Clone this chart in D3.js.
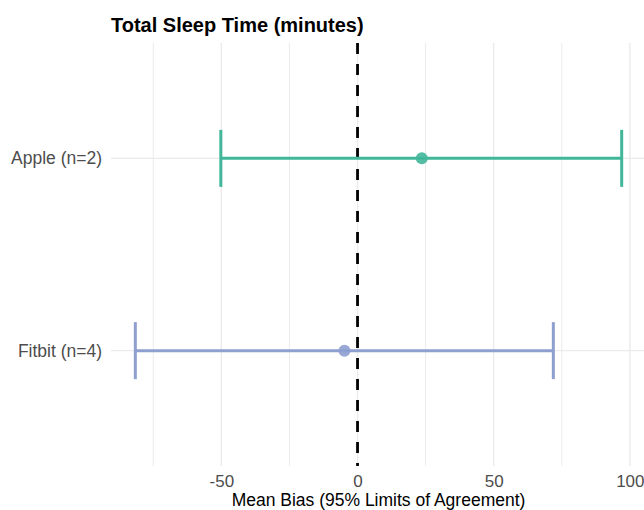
<!DOCTYPE html>
<html>
<head>
<meta charset="utf-8">
<script src="https://cdn.jsdelivr.net/npm/d3@7"></script>
<style>
  html, body { margin: 0; padding: 0; background: #fff; }
  svg { display: block; font-family: "Liberation Sans", Arial, sans-serif; }
</style>
</head>
<body>
<svg id="chart" width="644" height="510"></svg>
<script>
// ─── Data ───────────────────────────────────────────────────────────────────
const devices = ['Apple (n=2)', 'Fitbit (n=4)'];
const meanBias = [23.6, -4.8];
const lowerLoA = [-50.2, -81.6];
const upperLoA = [97.0, 71.9];
const deviceColors = ['#41b699', '#8e9fd0'];

const majorTicks = [-50, 0, 50, 100];
const minorTicks = [-75, -25, 25, 75];

// ─── Layout ─────────────────────────────────────────────────────────────────
const W = 644, H = 510;
const M = { top: 43, right: -2, bottom: 44, left: 111 };  // panel runs off right edge like the source

const rows = devices.map((d, i) => ({
  name: d, mean: meanBias[i], lo: lowerLoA[i], hi: upperLoA[i], color: deviceColors[i]
}));

// ggplot-style 5% expansion of the data range
const lo = d3.min(lowerLoA), hi = d3.max(upperLoA);
const pad = (hi - lo) * 0.05;

const x = d3.scaleLinear()
  .domain([lo - pad, hi + pad])
  .range([M.left, W - M.right]);

const y = d3.scalePoint()
  .domain(devices)
  .range([M.top, H - M.bottom])
  .padding(0.6);

const svg = d3.select('#chart');

// ── Grid ────────────────────────────────────────────────────────────────────
const grid = svg.append('g').attr('stroke', '#ebebeb');
grid.selectAll('line.minor')
  .data(minorTicks)
  .join('line')
  .attr('x1', d => x(d)).attr('x2', d => x(d))
  .attr('y1', M.top).attr('y2', H - M.bottom)
  .attr('stroke-width', 1);
grid.selectAll('line.major')
  .data(majorTicks)
  .join('line')
  .attr('x1', d => x(d)).attr('x2', d => x(d))
  .attr('y1', M.top).attr('y2', H - M.bottom)
  .attr('stroke-width', 1.4);
grid.selectAll('line.hz')
  .data(devices)
  .join('line')
  .attr('x1', M.left).attr('x2', W - M.right)
  .attr('y1', d => y(d)).attr('y2', d => y(d))
  .attr('stroke-width', 1.4);

// ── Zero reference line ─────────────────────────────────────────────────────
svg.append('line')
  .attr('x1', x(0)).attr('x2', x(0))
  .attr('y1', M.top).attr('y2', H - M.bottom)
  .attr('stroke', '#000')
  .attr('stroke-width', 2.8)
  .attr('stroke-dasharray', '11,10');

// ── Error bars + points ─────────────────────────────────────────────────────
const CAP = 28.5;
const bar = svg.append('g')
  .selectAll('g')
  .data(rows)
  .join('g')
  .attr('stroke', d => d.color)
  .attr('stroke-width', 3);

bar.append('line')
  .attr('x1', d => x(d.lo)).attr('x2', d => x(d.hi))
  .attr('y1', d => y(d.name)).attr('y2', d => y(d.name));
bar.append('line')
  .attr('x1', d => x(d.lo)).attr('x2', d => x(d.lo))
  .attr('y1', d => y(d.name) - CAP).attr('y2', d => y(d.name) + CAP);
bar.append('line')
  .attr('x1', d => x(d.hi)).attr('x2', d => x(d.hi))
  .attr('y1', d => y(d.name) - CAP).attr('y2', d => y(d.name) + CAP);
bar.append('circle')
  .attr('cx', d => x(d.mean))
  .attr('cy', d => y(d.name))
  .attr('r', 6)
  .attr('stroke', 'none')
  .attr('fill', d => d.color)
  .attr('fill-opacity', 0.9);

// ── Axes (text only, theme_minimal style) ───────────────────────────────────
// plain hyphen for negatives, as in the source
const xAxis = svg.append('g')
  .attr('transform', `translate(0,${H - M.bottom})`)
  .call(d3.axisBottom(x).tickValues(majorTicks).tickSize(0).tickPadding(0).tickFormat(d => String(d)));
xAxis.select('.domain').remove();
xAxis.selectAll('text')
  .attr('y', 21)
  .attr('dy', 0)
  .attr('fill', '#4d4d4d')
  .style('font-size', '17px')
  .style('font-family', '"Liberation Sans", Arial, sans-serif');

const yAxis = svg.append('g')
  .attr('transform', `translate(${M.left},0)`)
  .call(d3.axisLeft(y).tickSize(0).tickPadding(9));
yAxis.select('.domain').remove();
yAxis.selectAll('text')
  .attr('fill', '#4d4d4d')
  .style('font-size', '17.5px')
  .style('font-family', '"Liberation Sans", Arial, sans-serif');

// ── Titles ──────────────────────────────────────────────────────────────────
svg.append('text')
  .attr('x', (M.left + x.range()[1]) / 2)
  .attr('y', 506)
  .attr('text-anchor', 'middle')
  .attr('fill', '#000')
  .style('font-size', '17.5px')
  .text('Mean Bias (95% Limits of Agreement)');

svg.append('text')
  .attr('x', M.left)
  .attr('y', 32)
  .attr('fill', '#000')
  .style('font-size', '20px')
  .style('font-weight', 'bold')
  .text('Total Sleep Time (minutes)');
</script>
</body>
</html>
